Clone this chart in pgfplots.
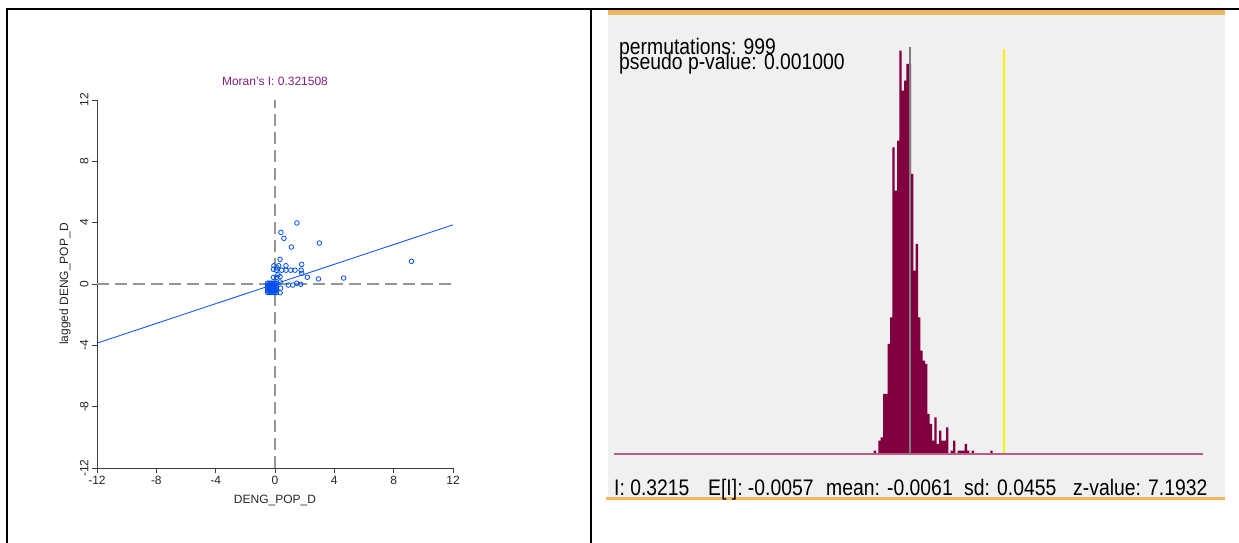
\documentclass[border=0pt]{standalone}
\usepackage{pgfplots}
\pgfplotsset{compat=1.18}
\usepackage{fontspec}
\setmainfont{Liberation Sans}
\definecolor{ptblue}{RGB}{0,80,240}
\definecolor{lineblue}{RGB}{20,90,255}
\definecolor{moranpurple}{RGB}{128,32,128}
\definecolor{barmaroon}{RGB}{128,0,64}
\definecolor{basepink}{RGB}{185,95,135}
\definecolor{panelgray}{RGB}{240,240,240}
\definecolor{bandorange}{RGB}{240,184,100}
\definecolor{meangray}{RGB}{125,125,125}
\definecolor{dashgray}{RGB}{150,150,150}
\definecolor{axgray}{RGB}{60,60,60}

\pgfplotstableread{
x count
-0.1327 1
-0.1246 0
-0.1165 4
-0.1083 5
-0.1002 18
-0.0921 18
-0.0839 33
-0.0758 41
-0.0677 92
-0.0595 79
-0.0514 94
-0.0433 121
-0.0351 109
-0.0270 112
-0.0189 117
-0.0107 117
-0.0026 84
0.0055 55
0.0136 63
0.0218 41
0.0299 31
0.0380 28
0.0462 27
0.0543 12
0.0624 9
0.0706 4
0.0787 11
0.0868 3
0.0950 7
0.1031 4
0.1112 4
0.1194 8
0.1275 0
0.1356 1
0.1438 4
0.1519 0
0.1600 1
0.1682 1
0.1763 1
0.1844 3
0.1926 1
0.2007 0
0.2088 1
0.2170 0
0.2251 0
0.2332 0
0.2414 0
0.2495 0
0.2576 0
0.2658 0
0.2739 1
0.2820 0
}\permtable

\begin{document}
\begin{tikzpicture}
\useasboundingbox (0,0) rectangle (1239pt,543pt);
\fill[white] (0,0) rectangle (1239pt,543pt);
% table frame
\draw[line width=2.3pt] (7pt,0) -- (7pt,534pt);
\draw[line width=2.3pt] (5.85pt,534pt) -- (1239pt,534pt);
\draw[line width=2.3pt] (591pt,0) -- (591pt,534pt);
% right panel background
\fill[panelgray] (608pt,45pt) rectangle (1225pt,528pt);
\fill[bandorange] (608pt,528pt) rectangle (1225pt,533pt);
\fill[bandorange] (606pt,43pt) rectangle (1225pt,45.5pt);

% ---------------- left: Moran scatter ----------------
\begin{axis}[
  at={(97pt,75pt)}, anchor=south west,
  scale only axis, width=356pt, height=368pt,
  xmin=-12, xmax=12, ymin=-12, ymax=12,
  axis lines*=left,
  axis line style={-, draw=axgray, line width=0.9pt},
  xtick={-12,-8,...,12}, ytick={-12,-8,...,12},
  tick align=outside, major tick length=5pt,
  tick style={axgray, line width=0.9pt},
  /pgf/number format/assume math mode=true,
  ticklabel style={font=\fontsize{12}{14}\selectfont, text=black!85},
  yticklabel style={rotate=90, anchor=south},
  xlabel={DENG\_POP\_D}, ylabel={lagged DENG\_POP\_D},
  label style={font=\fontsize{12}{14}\selectfont, text=black!85},
  xlabel style={at={(axis description cs:0.5,-0.087)}, anchor=center},
  ylabel style={at={(axis description cs:-0.0899,0.5)}, anchor=center},
  title={Moran's I: 0.321508},
  title style={font=\fontsize{12}{14}\selectfont, text=moranpurple,
    at={(axis description cs:0.5,1.0353)}, anchor=center},
]
\addplot[dashgray, line width=1.3pt, dash pattern=on 12pt off 6pt] coordinates {(-12,0) (12,0)};
\addplot[dashgray, line width=1.3pt, dash pattern=on 12pt off 6pt] coordinates {(0,-12) (0,12)};
\addplot[lineblue, line width=0.9pt] coordinates {(-12,-3.858) (12,3.858)};
\addplot[only marks, mark=o, mark size=2.3pt, ptblue, mark options={line width=0.8pt}] coordinates {
(1.48,3.98) (0.40,3.37) (0.60,2.98) (2.99,2.67) (1.10,2.41) (9.20,1.48)
(0.34,1.61) (1.80,1.28) (-0.07,1.19) (0.25,1.19) (0.74,1.19) (-0.10,0.96)
(0.09,0.90) (0.45,0.90) (0.74,0.90) (1.06,0.90) (1.35,0.90) (1.76,0.90)
(1.80,0.70) (2.18,0.44) (2.93,0.33) (4.63,0.39) (-0.10,0.43) (0.10,0.43)
(0.34,0.48) (1.47,0.05) (1.73,-0.02) (0.90,-0.07) (1.20,-0.07) (0.34,0.13)
(0.34,-0.57) (0.38,-0.27) (0.20,0.60) (0.15,1.05)
(-0.5,0.05) (-0.4,0.05) (-0.3,0.05) (-0.2,0.05) (-0.1,0.05) (0.0,0.05) (0.1,0.05)
(-0.5,-0.1) (-0.4,-0.1) (-0.3,-0.1) (-0.2,-0.1) (-0.1,-0.1) (0.0,-0.1) (0.1,-0.1)
(-0.5,-0.25) (-0.4,-0.25) (-0.3,-0.25) (-0.2,-0.25) (-0.1,-0.25) (0.0,-0.25) (0.1,-0.25)
(-0.5,-0.4) (-0.4,-0.4) (-0.3,-0.4) (-0.2,-0.4) (-0.1,-0.4) (0.0,-0.4) (0.1,-0.4)
(-0.5,-0.55) (-0.4,-0.55) (-0.3,-0.55) (-0.2,-0.55) (-0.1,-0.55) (0.0,-0.55) (0.1,-0.55)
};
\end{axis}

% ---------------- right: permutation histogram ----------------
\begin{axis}[
  at={(614pt,89pt)}, anchor=south west,
  scale only axis, width=589pt, height=404pt,
  xmin=-1.0378, xmax=1.0152, ymin=0, ymax=121.2,
  hide axis, clip=false,
]
\addplot[ybar interval, fill=barmaroon, draw=none] table[x=x, y=count] {\permtable};
\addplot[meangray, line width=1.7pt] coordinates {(-0.0061,0) (-0.0061,122)};
\addplot[yellow, line width=2pt] coordinates {(0.3215,0) (0.3215,121.4)};
\addplot[basepink, line width=1.5pt] coordinates {(-1.0378,0) (1.0152,0)};
\end{axis}

% texts of the right panel
\node[anchor=base west, inner sep=0] at (619pt,488pt)
  {\scalebox{0.86}[1]{\fontsize{22.5}{24}\selectfont permutations: 999}};
\node[anchor=base west, inner sep=0] at (619pt,473pt)
  {\scalebox{0.86}[1]{\fontsize{22.5}{24}\selectfont pseudo p-value: 0.001000}};
\node[anchor=base west, inner sep=0] at (614pt,47pt)
  {\scalebox{0.86}[1]{\fontsize{22.5}{24}\selectfont I: 0.3215}};
\node[anchor=base west, inner sep=0] at (708pt,47pt)
  {\scalebox{0.86}[1]{\fontsize{22.5}{24}\selectfont E[I]: -0.0057}};
\node[anchor=base west, inner sep=0] at (826pt,47pt)
  {\scalebox{0.86}[1]{\fontsize{22.5}{24}\selectfont mean: -0.0061}};
\node[anchor=base west, inner sep=0] at (964pt,47pt)
  {\scalebox{0.86}[1]{\fontsize{22.5}{24}\selectfont sd: 0.0455}};
\node[anchor=base west, inner sep=0] at (1073pt,47pt)
  {\scalebox{0.86}[1]{\fontsize{22.5}{24}\selectfont z-value: 7.1932}};
\end{tikzpicture}
\end{document}
